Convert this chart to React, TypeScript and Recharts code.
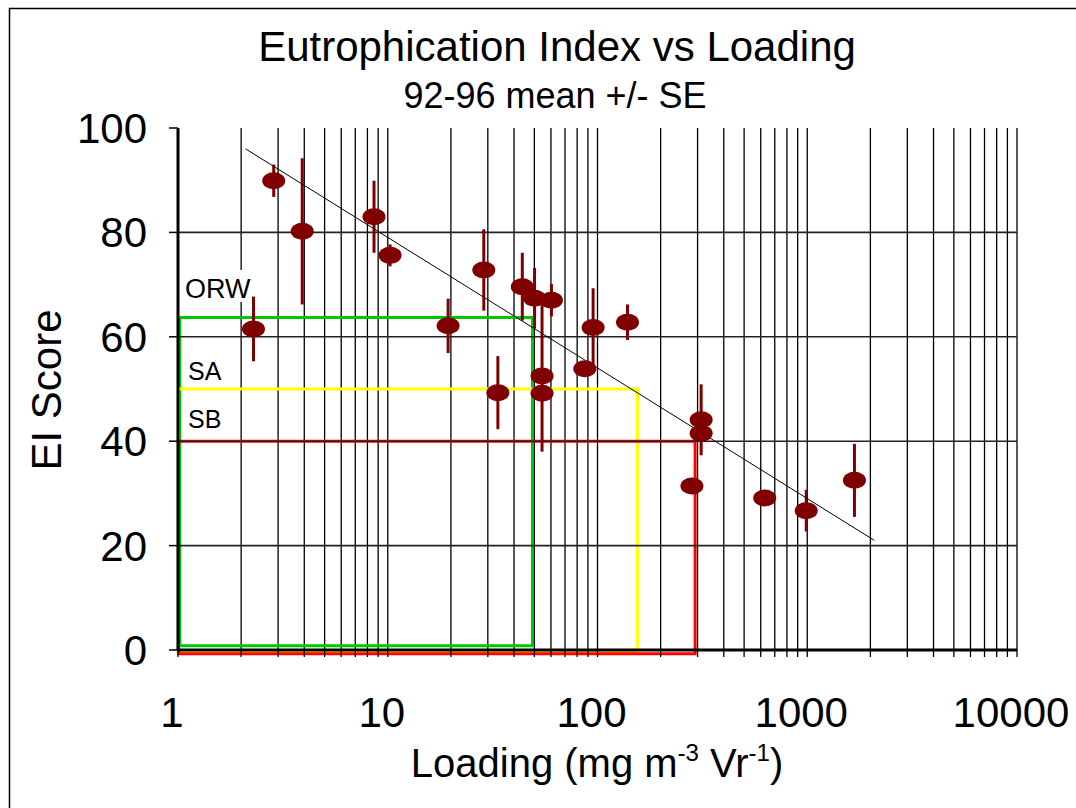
import React from 'react';
import {
  ScatterChart,
  Scatter,
  XAxis,
  YAxis,
  CartesianGrid,
  ReferenceLine,
  ReferenceArea,
  ErrorBar,
} from 'recharts';

// ---- data ----
const loading = [2.29, 2.86, 3.91, 8.6, 10.26, 19.4, 28.7, 33.5, 43.8, 50.1, 60.3, 54.4, 54.4, 87, 95.3, 139, 282, 312, 312, 627, 989, 1679];
const eiScore = [61.5, 89.9, 80.2, 83.0, 75.6, 62.1, 72.8, 49.3, 69.6, 67.4, 67.0, 52.5, 49.2, 53.9, 61.8, 62.8, 31.4, 44.1, 41.5, 29.1, 26.7, 32.5];
const stdErr = [6.2, 3.1, 14.0, 6.9, 2.1, 5.2, 7.8, 7.0, 6.5, 5.8, 3.1, 14.5, 0, 0, 7.5, 3.4, 0, 6.8, 0, 0, 4.0, 7.0];

const trendLoading = [2.1, 2090];
const trendScore = [96, 21];

const xTicks = [
  1, 2, 3, 4, 5, 6, 7, 8, 9,
  10, 20, 30, 40, 50, 60, 70, 80, 90,
  100, 200, 300, 400, 500, 600, 700, 800, 900,
  1000, 2000, 3000, 4000, 5000, 6000, 7000, 8000, 9000,
  10000,
];
const xTickLabels = [1, 10, 100, 1000, 10000];
const yTicks = [0, 20, 40, 60, 80, 100];
const yGridValues = [20, 40, 60, 80];

const zoneNames = ['ORW', 'SA', 'SB'];
const zoneMinLoading = [1.02, 1.0, 1.005];
const zoneMaxLoading = [49, 155, 292];
const zoneLowScore = [0.8, -0.3, -0.7];
const zoneHighScore = [63.7, 50, 40];
const zoneColors = ['#00c800', '#ffff00', '#ff0000'];

const points = loading.map((x, i) => ({ x, y: eiScore[i], err: stdErr[i] }));
const trend = trendLoading.map((x, i) => ({ x, y: trendScore[i] }));

const FONT = '"Liberation Sans", Arial, sans-serif';

const XTick = (props: any) => {
  const { x, y, payload } = props;
  if (!xTickLabels.includes(payload.value)) return <g />;
  return (
    <text x={x - 6} y={y + 68} textAnchor="middle" fontFamily={FONT} fontSize={42} fill="#000">
      {payload.value}
    </text>
  );
};

const YTick = (props: any) => {
  const { x, y, payload } = props;
  return (
    <text x={x} y={y + 15} textAnchor="end" fontFamily={FONT} fontSize={42} fill="#000">
      {payload.value}
    </text>
  );
};

const Ellipse = (props: any) => {
  const { cx, cy } = props;
  if (cx == null || cy == null) return <g />;
  return <ellipse cx={cx} cy={cy} rx={11.5} ry={8.5} fill="#800000" />;
};

const NoShape = () => <g />;

export default function App() {
  return (
    <div style={{ position: 'absolute', left: 0, top: 0, width: 1076, height: 808, background: '#fff' }}>
      <ScatterChart width={1076} height={808} margin={{ top: 128, right: 59, bottom: 98, left: 78 }}>
        <CartesianGrid horizontal={false} vertical stroke="#000" strokeWidth={1.3} />
        <XAxis
          type="number"
          dataKey="x"
          scale="log"
          domain={[1, 10000]}
          ticks={xTicks}
          interval={0}
          allowDataOverflow
          tickSize={7}
          tickLine={{ stroke: '#000', strokeWidth: 1.3 }}
          axisLine={{ stroke: '#000', strokeWidth: 3 }}
          tick={<XTick />}
          height={60}
        />
        <YAxis
          type="number"
          dataKey="y"
          domain={[0, 100]}
          ticks={yTicks}
          interval={0}
          width={100}
          tickSize={9}
          tickMargin={22}
          axisLine={{ stroke: '#000', strokeWidth: 3 }}
          tickLine={{ stroke: '#000', strokeWidth: 1.5 }}
          tick={<YTick />}
        />
        {yGridValues.map((v) => (
          <ReferenceLine key={v} y={v} stroke="#222" strokeWidth={1.6} />
        ))}
        {zoneNames.map((n, i) => (
          <ReferenceArea
            key={n}
            x1={zoneMinLoading[i]}
            x2={zoneMaxLoading[i]}
            y1={zoneLowScore[i]}
            y2={zoneHighScore[i]}
            fill="none"
            fillOpacity={0}
            stroke={zoneColors[i]}
            strokeWidth={3}
            strokeOpacity={1}
            ifOverflow="visible"
          />
        ))}
        <Scatter
          data={trend}
          line={{ stroke: '#000', strokeWidth: 1 }}
          shape={<NoShape />}
          isAnimationActive={false}
        />
        <Scatter data={points} shape={<Ellipse />} isAnimationActive={false}>
          <ErrorBar dataKey="err" direction="y" width={0} stroke="#800000" strokeWidth={3} />
        </Scatter>
      </ScatterChart>
      <svg
        width={1076}
        height={808}
        style={{ position: 'absolute', left: 0, top: 0, pointerEvents: 'none' }}
        fontFamily={FONT}
      >
        <rect x={9.5} y={8.5} width={1200} height={1000} fill="none" stroke="#000" strokeWidth={1.5} />
        <text x={557} y={61} textAnchor="middle" fontSize={42} fill="#000">
          Eutrophication Index vs Loading
        </text>
        <text x={555} y={108} textAnchor="middle" fontSize={36} fill="#000">
          92-96 mean +/- SE
        </text>
        <text transform="translate(61,390) rotate(-90)" textAnchor="middle" fontSize={42} fill="#000">
          EI Score
        </text>
        <text x={597} y={777} textAnchor="middle" fontSize={40} fill="#000">
          Loading (mg m
          <tspan fontSize={24} dy={-16}>-3</tspan>
          <tspan dy={16}> Vr</tspan>
          <tspan fontSize={24} dy={-16}>-1</tspan>
          <tspan dy={16}>)</tspan>
        </text>
        <rect x={182} y={270} width={70} height={32} fill="#fff" />
        <text x={185} y={298} fontSize={27} fill="#000">ORW</text>
        <text x={188} y={380} fontSize={25} fill="#000">SA</text>
        <text x={188} y={428} fontSize={25} fill="#000">SB</text>
      </svg>
    </div>
  );
}
